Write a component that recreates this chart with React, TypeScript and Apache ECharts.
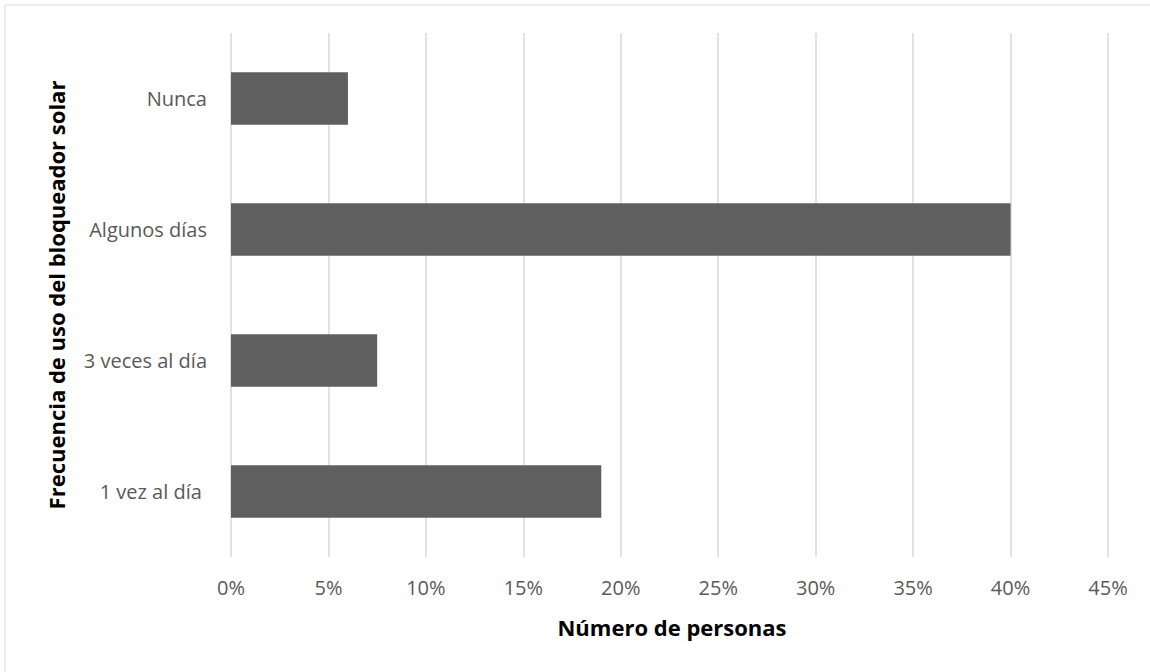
import React, { useEffect, useRef } from "react";
import * as echarts from "echarts";

const categories = ["Nunca", "Algunos días", "3 veces al día", "1 vez al día "];
const values = [6, 40, 7.5, 19];
const xTicks = { min: 0, max: 45, interval: 5 };
const xTitle = "Número de personas";
const yTitle = "Frecuencia de uso del bloqueador solar";

const FONT = "'Open Sans', sans-serif";

export default function App() {
  const ref = useRef<HTMLDivElement>(null);
  useEffect(() => {
    document.body.style.margin = "0";
    const chart = echarts.init(ref.current!, null, { renderer: "svg" });
    chart.setOption({
      animation: false,
      backgroundColor: "#ffffff",
      grid: { left: 231, right: 42, top: 33, bottom: 115, containLabel: false },
      xAxis: {
        type: "value",
        min: xTicks.min,
        max: xTicks.max,
        interval: xTicks.interval,
        axisLine: { show: false },
        axisTick: { show: false },
        splitLine: { show: true, lineStyle: { color: "#d9d9d9", width: 1.5 } },
        axisLabel: {
          formatter: (v: number) => `${v}%`,
          color: "#595959",
          fontFamily: FONT,
          fontSize: 20,
          margin: 20,
        },
      },
      yAxis: {
        type: "category",
        data: categories,
        inverse: true,
        axisLine: { show: false },
        axisTick: { show: false },
        splitLine: { show: false },
        axisLabel: {
          color: "#595959",
          fontFamily: FONT,
          fontSize: 20,
          margin: 24,
        },
      },
      series: [
        {
          type: "bar",
          data: values,
          barCategoryGap: "60%",
          itemStyle: { color: "#5f5f5f" },
        },
      ],
      graphic: [
        {
          type: "rect",
          shape: { x: 5, y: 5, width: 1150, height: 672 },
          style: { fill: "none", stroke: "#d9d9d9", lineWidth: 1 },
          silent: true,
        },
        {
          type: "text",
          x: 672,
          y: 627,
          style: {
            text: xTitle,
            font: `bold 22px ${FONT}`,
            fill: "#000000",
            align: "center",
            verticalAlign: "middle",
          },
        },
        {
          type: "text",
          x: 56,
          y: 295,
          rotation: Math.PI / 2,
          style: {
            text: yTitle,
            font: `bold 22px ${FONT}`,
            fill: "#000000",
            align: "center",
            verticalAlign: "middle",
          },
        },
      ],
    });
    return () => chart.dispose();
  }, []);
  return <div ref={ref} style={{ width: 1150, height: 672 }} />;
}
